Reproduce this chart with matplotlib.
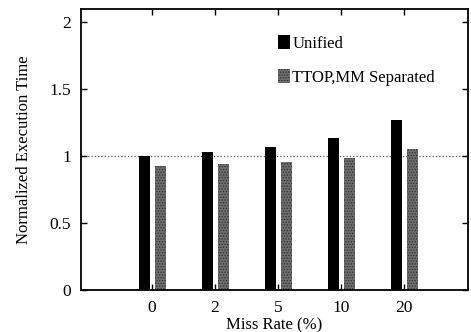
import matplotlib
matplotlib.use('Agg')
import matplotlib.pyplot as plt

plt.rcParams['font.family'] = ['Liberation Serif', 'DejaVu Serif']
plt.rcParams['hatch.linewidth'] = 0.6

miss_rates = ['0', '2', '5', '10', '20']
unified = [1.00, 1.03, 1.07, 1.135, 1.27]
separated = [0.925, 0.94, 0.955, 0.985, 1.05]

fig = plt.figure(figsize=(4.71, 3.32), dpi=100)
ax = fig.add_axes([0.172, 0.127, 0.822, 0.846])

pos = list(range(1, len(miss_rates) + 1))
w = 0.175
ax.bar([p - 0.125 for p in pos], unified, width=w, color='black', label='Unified')
ax.bar([p + 0.13 for p in pos], separated, width=w, color='#6e6e6e',
       hatch='......', edgecolor='#2e2e2e', linewidth=0, label='TTOP,MM Separated')

ax.axhline(1.0, color='#555555', linestyle=':', linewidth=0.9, zorder=0)

ax.set_xlim(-0.13, 6.02)
ax.set_ylim(0, 2.1)
ax.set_xticks(pos)
ax.set_xticklabels(miss_rates)
ax.set_yticks([0, 0.5, 1, 1.5, 2])
ax.set_yticklabels(['0', '0.5', '1', '1.5', '2'])
ax.tick_params(direction='in', length=4, width=1, labelsize=12.5,
               top=True, right=True, pad=7)
for s in ax.spines.values():
    s.set_linewidth(1.3)

ax.set_xlabel('Miss Rate (%)', fontsize=12, labelpad=1)
ax.set_ylabel('Normalized Execution Time', fontsize=12, labelpad=13)

ax.legend(loc='upper left', bbox_to_anchor=(0.47, 0.96), frameon=False,
          fontsize=12, handlelength=0.7, handleheight=0.9,
          handletextpad=0.15, labelspacing=1.05)

fig.savefig('out.png', dpi=100)
